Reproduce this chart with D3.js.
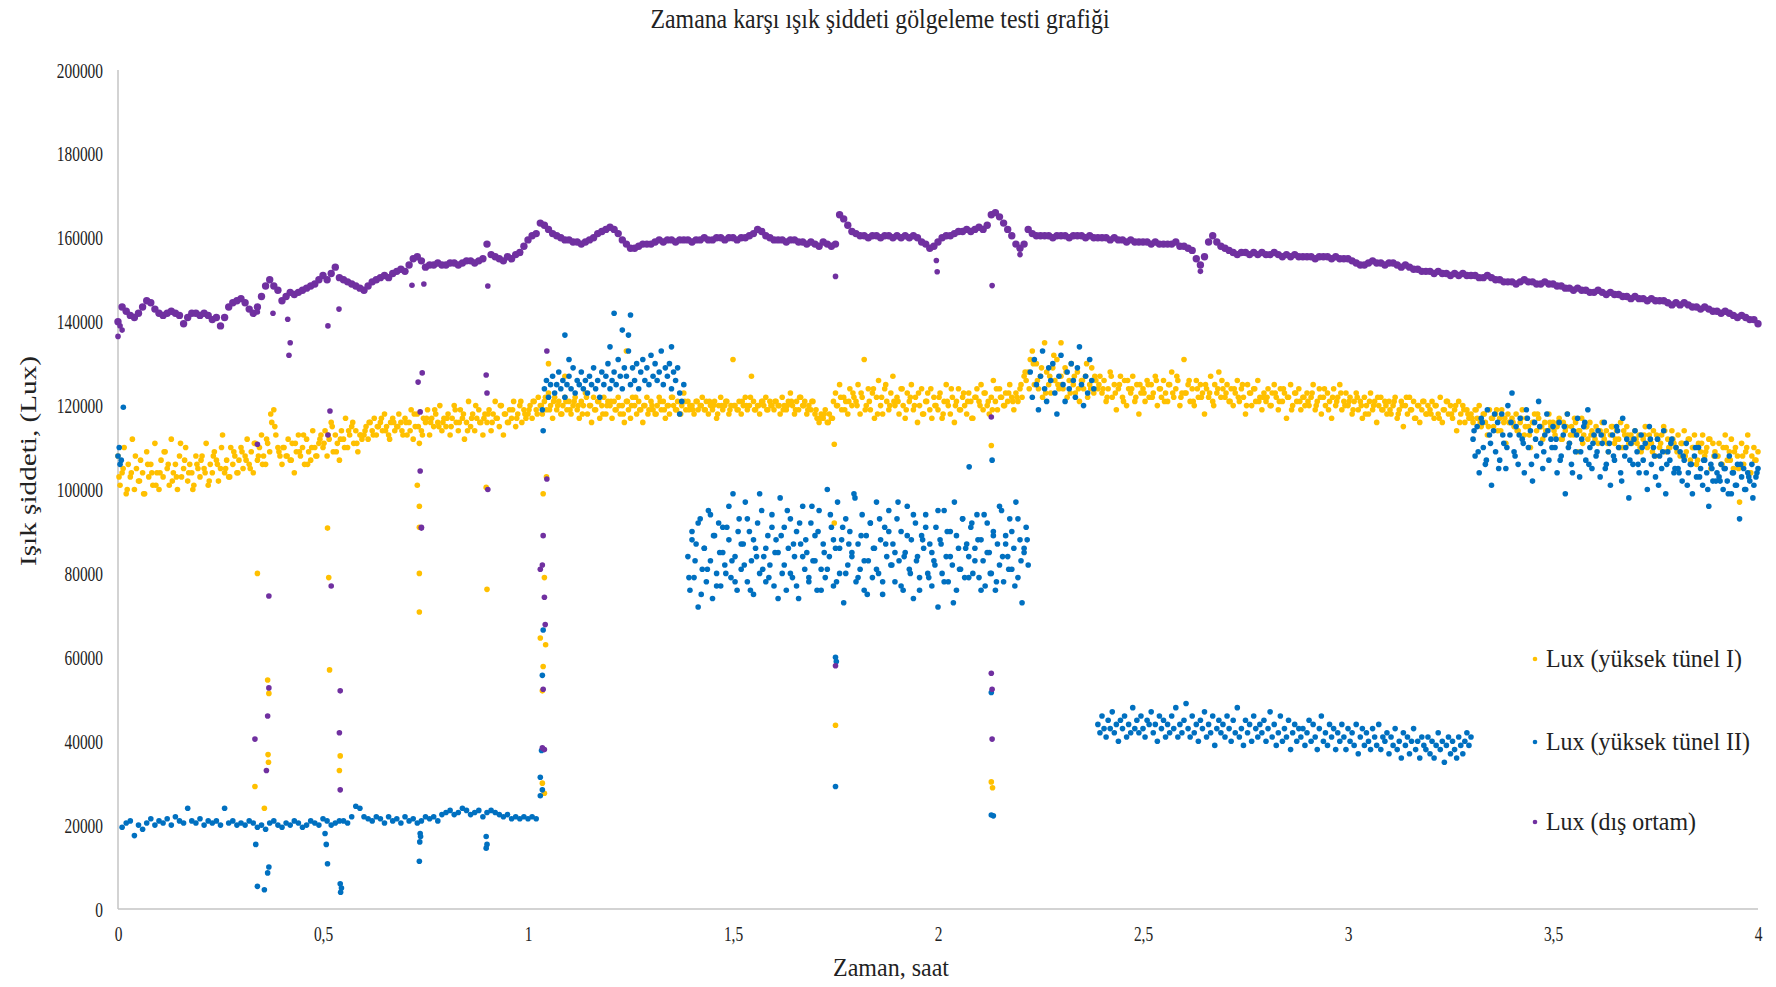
<!DOCTYPE html>
<html>
<head>
<meta charset="utf-8">
<script src="https://cdn.jsdelivr.net/npm/d3@7"></script>
<style>
  body { margin: 0; background: #fff; }
  text { font-family: "Liberation Serif", "DejaVu Serif", serif; fill: #222; }
</style>
</head>
<body>
<div id="chart"></div>
<script>
// başlıklar
const titleText = "Zamana karşı ışık şiddeti gölgeleme testi grafiği";
const xTitle = "Zaman, saat";
const yTitle = "Işık şiddeti, (Lux)";
const seriesNames = ["Lux (yüksek tünel I)", "Lux (yüksek tünel II)", "Lux (dış ortam)"];
const seriesColors = ["#FFC000", "#0070C0", "#7030A0"];
const xTicks = [0, 0.5, 1, 1.5, 2, 2.5, 3, 3.5, 4];
const yTicks = [0, 20000, 40000, 60000, 80000, 100000, 120000, 140000, 160000, 180000, 200000];

// değerler kLux, resimden okundu
// dış ortam: t = 0 .. 4, adım 0.01 saat
const outsideStep = 0.01;
const outsideK = [
  140,143.5,142.5,141.5,141,142,143.5,145,144.5,143,
  142,141.5,142,142.5,142,141.5,139.5,141,142,142,
  141.5,142,141.5,140.5,141,139,141,143.5,144.5,145,
  145.5,144.5,143,142,143.5,146,148.5,150,148.5,147.5,
  145,146,147,146.5,147,147.5,148,148.5,149,150,
  151,150,151.5,153,150.5,150,149.5,149,148.5,148,
  147.5,148.5,149.5,150,150.5,151,150.5,151.5,152,152.5,
  152,153.5,155,155.5,154.5,153,153.5,153.5,154,153.5,
  153.5,154,154,153.5,154,154.5,154.5,154,154.5,155,
  158.5,156,155.5,155,154.5,155.5,155,156,156.5,158,
  159.5,160.5,161,163.5,163,162,161,160.5,160,159.5,
  159.5,159,159,158.5,159,159.5,160,161,161.5,162,
  162.5,162,161,159.5,158.5,157.5,157.5,158,158.5,158.5,
  158.5,159,159.5,159,159.5,159.5,159,159.5,159.5,159.5,
  159,159.5,159.5,160,159.5,159.5,160,160,159.5,160,
  160,159.5,160,160,160.5,161,162,161.5,160.5,160,
  159.5,159.5,159.5,159,159.5,159.5,159,159,158.5,159,
  158.5,158,159,158.5,158,158.5,165.5,164.5,163,161.5,
  161,160.5,160.5,160,160.5,160.5,160,160.5,160.5,160,
  160.5,160,160.5,160,160.5,160,159,158.5,157.5,158,
  159,160,160.5,160.5,161,161.5,161.5,162,161.5,162,
  162.5,162,163,165.5,166,165,163.5,162,160.5,158.5,
  157.5,158.5,162,161,160.5,160.5,160.5,160.5,160,160.5,
  160.5,160.5,160,160.5,160.5,160.5,160,160.5,160,160,
  160,160,159.5,160,159.5,159.5,159,159.5,159,159,
  159,159,158.5,159,158.5,158.5,158.5,158.5,159,158,
  158,157.5,157,155,153.5,155.5,159,160.5,159,158,
  157.5,157,156.5,156,156.5,156.5,156,156.5,156,156.5,
  156,156,156.5,156,155.5,156,155.5,156,155.5,155.5,
  155.5,155.5,155,155.5,155.5,155.5,155,155.5,155,155,
  155,154.5,154,153.5,153.5,154,154.5,154,154,153.5,
  154,154,153.5,153,153.5,153,152.5,152.5,152,152,
  152,151.5,152,151.5,151.5,151,151.5,151,151.5,151,
  151,151,150.5,150.5,151,150.5,150,150,149.5,149.5,
  149.5,149,149.5,150,149.5,149.5,149,149,149.5,149,
  149,148.5,148.5,148,148,147.5,148,147.5,147.5,147,
  147,147.5,147,146.5,147,146.5,146.5,146,146,145.5,
  146,145.5,145.5,145,145.5,145,145,145,144.5,144,
  144.5,144,144.5,144,143.5,143.5,143,143.5,143,142.5,
  142.5,142,142.5,142,141.5,141,141.5,141,140.5,140.5,
  139.5
];
// dış ortam: sapan noktalar [saat, kLux]
const outsideExtra = [
  [0,136.5],[0.01,138],[0.005,139],[0.34,142.3],[0.378,142],[0.414,140.6],[0.42,135],[0.417,132],
  [0.512,139],[0.539,143],[0.717,148.7],[0.746,149],[0.902,148.5],[0.742,127.8],[0.732,125.6],
  [0.898,127.3],[0.9,123],[0.517,118.7],[0.512,113],[0.737,118.5],[0.34,110.8],[1.046,133],
  [1.046,102.5],[0.737,104.4],[0.902,100],[0.74,90.8],[0.74,91],[1.037,89],[1.03,81],[1.035,82],
  [0.52,77],[0.368,74.6],[0.334,40.5],[0.368,52.7],[0.365,46],[0.362,33],[0.542,52],[0.54,42],
  [0.542,28.4],[1.04,74.3],[1.042,67.8],[1.037,52.4],[1.035,38.4],[1.04,38],[1.75,58],[1.75,150.8],
  [2.13,56.2],[2.132,52.4],[2.132,40.5],[2.132,148.6],[2.13,117.3],[1.996,154.6],[1.998,151.9],
  [2.2,156],[2.64,152]
];

// yüksek tünel I: t = 0 .. 4, adım 0.005 saat
const tunnel1Step = 0.005;
const tunnel1K = [
  108,101,104,110,99,106,103,112,100,105,102,107,104,99,109,103,106,101,111,104,
  100,107,103,109,105,101,112,104,106,100,108,103,105,110,102,106,104,101,108,105,
  103,108,105,111,101,106,104,109,107,102,105,113,104,107,103,110,106,108,104,107,
  110,105,108,112,106,109,104,111,107,110,113,108,106,111,109,116,119,113,110,108,
  106,110,108,112,107,111,104,109,113,108,110,106,112,109,107,114,110,108,111,113,
  110,114,108,112,116,109,113,111,107,114,112,117,110,113,115,111,114,109,113,112,
  113,115,112,116,114,117,113,115,116,114,118,115,113,116,117,114,115,118,116,113,
  117,113,116,119,112,115,118,111,114,117,116,119,113,117,115,118,116,120,114,117,
  115,118,113,117,120,116,114,119,117,112,116,121,115,118,114,117,119,116,113,118,
  116,119,114,118,121,117,115,120,113,118,116,119,117,121,115,118,120,116,119,117,
  118,120,117,121,119,122,120,118,121,119,123,120,117,122,119,121,118,120,122,119,
  121,118,120,122,119,117,121,120,123,118,120,116,122,119,121,117,120,122,118,121,
  120,117,121,119,122,118,120,116,121,119,117,122,120,118,121,119,116,120,122,119,
  121,119,118,120,122,119,121,117,120,118,122,120,119,121,118,120,123,119,121,120,
  120,118,121,119,120,122,119,121,118,120,119,121,117,120,122,119,120,121,118,120,
  131,120,119,121,118,120,122,119,120,127,121,119,120,118,121,120,122,119,121,120,
  119,121,120,118,122,120,119,121,123,120,118,121,119,122,120,121,118,120,119,121,
  118,117,116,118,117,119,116,118,117,121,123,120,125,119,122,121,118,124,120,122,
  121,125,118,122,131,120,124,119,123,117,122,126,120,118,124,121,119,123,127,120,
  122,118,124,120,117,123,121,125,119,122,116,120,124,118,121,123,119,117,122,120,
  119,123,117,121,125,120,118,122,116,121,124,119,122,120,118,123,121,117,122,124,
  121,125,119,123,120,118,122,126,121,119,124,122,120,123,121,125,122,119,123,121,
  124,122,127,126,128,131,133,125,130,124,127,122,135,128,125,123,129,126,131,124,
  127,124,129,122,126,130,125,123,128,121,126,124,127,122,125,129,123,126,124,127,
  123,126,121,124,128,122,125,119,124,127,122,126,120,124,123,127,121,125,118,123,
  124,121,126,122,125,123,127,120,124,122,126,123,121,125,128,122,124,126,120,123,
  131,123,125,121,124,120,126,122,125,123,118,124,122,127,121,125,123,128,122,124,
  122,125,121,124,120,123,126,121,124,122,118,125,123,120,124,121,126,122,119,123,
  121,124,120,123,125,122,119,124,121,123,117,122,125,120,123,121,124,119,122,120,
  123,120,122,125,119,121,124,118,122,120,123,121,117,124,120,122,125,119,121,123,
  120,122,118,121,123,119,121,117,122,120,118,123,119,121,116,120,122,119,121,118,
  121,118,120,122,117,119,121,115,120,118,122,119,121,117,120,116,119,121,118,120,
  119,121,117,120,118,122,116,119,121,118,120,117,119,114,121,118,120,116,119,117,
  118,116,119,117,120,115,118,116,113,119,117,115,118,114,117,119,116,111,118,116,
  117,115,118,114,116,119,113,117,115,110,116,118,114,117,115,112,116,114,118,115,
  116,113,115,117,112,116,114,118,111,115,113,116,109,114,117,113,115,112,116,114,
  113,115,111,114,116,112,114,109,113,115,111,114,112,116,110,113,115,111,113,112,
  114,111,113,109,112,115,110,113,111,114,108,112,110,113,115,109,112,110,114,111,
  110,113,108,111,114,109,112,107,110,113,106,111,109,113,108,110,112,105,111,109,
  108,111,106,110,113,107,109,112,105,110,108,97,111,106,109,113,104,108,110,107,
  109
];
// yüksek tünel I: ara okumalar, t = 0.0025 + i*0.01
const tunnel1BStart = 0.0025, tunnel1BStep = 0.01;
const tunnel1BK = [
  103,105,100,104,108,102,99,106,104,101,
  104,109,106,102,103,111,107,104,100,106,
  107,104,102,108,106,110,105,103,109,104,
  109,107,105,111,108,106,112,118,115,109,
  110,108,107,111,109,113,106,110,108,112,
  111,113,115,109,112,110,114,116,111,113,
  114,116,113,115,117,114,112,116,115,114,
  116,114,118,115,113,117,116,119,115,116,
  117,115,119,116,118,114,117,120,116,117,
  118,116,117,120,118,116,119,117,121,118,
  119,121,118,120,122,119,121,120,118,121,
  119,121,120,118,122,120,119,121,118,120,
  121,119,120,118,121,120,122,119,120,118,
  120,118,121,119,120,122,119,118,121,119,
  119,121,120,119,121,120,118,120,121,119,
  120,119,121,120,122,119,120,121,119,120,
  121,120,119,120,121,119,122,120,119,121,
  119,117,118,116,117,120,122,119,121,123,
  120,123,119,121,124,118,122,125,120,121,
  121,124,119,122,120,123,118,121,124,120,
  122,118,121,124,120,119,123,121,117,122,
  120,123,121,119,124,122,120,123,121,122,
  125,128,124,130,126,129,123,127,132,125,
  125,128,123,127,124,126,130,124,127,125,
  124,122,127,123,125,121,126,124,122,125,
  123,125,122,126,124,121,125,123,127,122,
  123,126,121,124,122,125,123,120,124,126,
  123,121,124,122,125,120,123,124,121,122,
  122,120,123,121,124,122,119,123,121,122,
  121,123,120,122,124,119,122,121,123,120,
  121,119,122,120,118,121,120,122,119,120,
  119,121,118,120,122,119,117,120,121,118,
  118,120,117,119,121,118,120,116,119,118,
  117,119,116,118,115,117,119,114,117,116,
  116,114,117,115,113,116,118,115,114,116,
  114,116,112,115,113,117,114,111,115,113,
  112,114,113,111,115,112,110,114,113,111,
  112,110,113,111,109,113,111,114,110,112,
  109,111,108,112,110,107,111,109,112,108,
  108,106,110,107,109,105,108,110,104,107
];
const tunnel1Extra = [
  [0.34,80],[0.365,54.6],[0.368,51.4],[0.366,36.8],[0.367,35],[0.334,29.2],[0.357,24],
  [0.511,90.8],[0.514,79],[0.516,57],[0.542,36.5],[0.54,33],[0.735,96],[0.735,91],[0.735,80],
  [0.735,70.8],[0.898,100.5],[0.9,76.2],[1.037,99],[1.04,79],[1.03,64.6],[1.037,57.8],[1.035,52],
  [1.043,63],[1.035,30],[1.04,27.6],[1.045,103],[1.75,43.8],[1.747,110.8],[1.747,92],[2.13,30.3],
  [2.133,28.9],[2.13,110.5],[1.05,130],[1.09,127],[2.3,135],[0.73,101],[1.24,133]
];

// yüksek tünel II: bölümler [başlangıç saati, adım, değerler]
const tunnel2Low1 = [ // 0.01 .. 1.02, adım 0.01
  19.5,20.5,21,17.5,20,19,20.5,21.5,20,21,
  20.5,21.5,20,22,21,20.5,24,21,20.5,21.5,
  20,21,20.5,21,20,24,20.5,21,20,20.5,
  20,21,20.5,19.5,20,19,20.5,21,20,19.5,
  20.5,20,21,20.5,19.5,20,21,20.5,20,21.5,
  21,20,20.5,21,21,20.5,22,24.5,24,22,
  21.5,21,22,21.5,20.5,22,21,21.5,20.5,22,
  21,21.5,20.5,21,22,21.5,22,21,22.5,23,
  23.5,22.5,23,24,23.5,22.5,23,23.5,22,23,
  23.5,23,22.5,22,22.5,21.5,22,21.5,22,21.5,
  22,21.5
];
const tunnel2High1 = [ // 1.04 .. 1.38, adım 0.005
  124,126,122,125,127,123,125,128,124,126,122,125,127,124,129,123,126,125,128,124,
  126,123,127,125,129,124,126,122,128,125,127,130,124,126,128,125,131,127,124,129,
  127,133,125,129,126,130,124,128,131,126,129,125,132,127,130,126,128,133,125,129,
  127,130,124,128,126,129,123,121,125
];
const tunnel2Mid = [ // 1.39 .. 2.22, adım 0.005
  84,76,90,79,87,72,93,81,86,78,95,83,74,89,80,92,77,85,82,91,
  88,79,99,84,76,93,81,87,97,78,90,83,75,86,92,80,95,84,78,89,
  82,94,77,88,85,98,80,91,76,86,93,79,84,90,74,87,96,81,85,78,
  92,83,89,76,95,81,87,79,100,84,91,77,86,97,80,88,73,93,82,90,
  85,99,78,87,81,94,76,89,83,92,79,86,97,80,88,75,91,84,95,82,
  87,78,93,83,90,76,85,96,81,88,74,92,84,79,89,86,94,80,87,77,
  83,91,72,88,80,95,84,78,90,82,97,76,86,81,93,79,87,84,91,80,
  86,94,79,88,83,77,92,85,80,90,76,87,82,95,78,89,84,93,81,86,
  97,79,88,73,85,91,82
];
const tunnel2MidB = [ // 1.3925 .. 2.2175, adım 0.0075
  79,88,83,92,75,86,81,94,89,77,
  85,91,80,96,83,78,90,87,82,93,
  76,88,84,99,81,86,79,91,85,74,
  89,82,95,80,87,77,92,84,88,79,
  96,83,90,76,85,81,94,88,78,86,
  91,80,87,84,98,79,89,83,75,92,
  86,81,93,78,87,90,82,85,97,77,
  84,89,80,94,83,76,88,91,79,85,
  82,95,87,78,90,84,73,89,81,93,
  86,79,92,83,88,76,94,85,80,89,
  78,96,84,87,81,90,77,93,83,86,
  88
];
const tunnel2High2 = [ // 2.225 .. 2.38, adım 0.005
  128,122,131,125,119,127,133,124,121,129,126,130,123,118,127,132,
  125,121,128,124,130,126,122,129,134,125,120,127,123,131,126,124
];
const tunnel2Low2 = [ // 2.39 .. 3.30, adım 0.005
  44,42,46,43,41,45,43,47,42,44,40,45,43,46,41,44,42,48,43,45,
  42,46,43,41,45,44,47,42,44,40,46,43,45,41,44,42,46,43,48,41,
  44,42,45,49,43,41,46,42,44,40,45,43,47,41,44,42,46,39,43,45,
  42,44,41,46,43,40,45,42,48,41,43,39,45,42,44,40,46,43,41,44,
  42,45,40,43,47,41,44,39,42,46,40,43,41,45,38,42,44,40,43,41,
  43,39,42,45,40,44,41,38,43,46,40,42,39,44,41,43,38,42,40,44,
  41,38,43,40,42,39,44,37,41,43,39,42,40,38,43,41,39,44,38,41,
  40,42,37,41,39,43,38,40,36,42,39,41,37,40,43,38,40,36,41,39,
  38,41,37,40,36,39,42,38,40,35,39,41,37,40,38,36,41,39,37,40,
  42,39,41
];
const tunnel2High3 = [ // 3.305 .. 4.0, adım 0.005
  112,108,115,104,117,110,106,119,113,101,114,109,116,107,118,111,105,120,113,123,
  109,115,106,117,112,104,119,110,114,102,116,108,121,111,105,113,118,107,112,115,
  110,104,116,108,113,99,118,111,106,114,109,117,103,112,115,107,119,110,105,113,
  108,114,103,111,116,106,109,101,113,107,115,110,104,117,108,112,98,111,106,114,
  109,104,113,107,111,100,115,106,110,103,112,108,105,114,99,109,107,112,104,110,
  105,109,102,107,111,104,106,99,108,103,110,105,101,107,104,96,106,102,108,104,
  103,106,100,105,102,108,99,104,101,106,93,103,105,100,104,102,106,101,103,105
];
const tunnel2High3B = [ // 3.3075 .. 3.9975, adım 0.01
  114,109,116,107,111,118,105,113,110,116,
  108,113,111,117,106,112,115,109,114,110,
  112,107,115,110,104,113,109,116,106,111,
  109,113,105,111,108,114,102,110,107,112,
  106,110,104,112,108,101,109,106,111,105,
  104,108,101,106,110,103,107,100,105,102,
  102,105,99,104,101,106,100,103,98,104
];
const tunnel2Segments = [
  [0.01, 0.01, tunnel2Low1],
  [1.04, 0.005, tunnel2High1],
  [1.39, 0.005, tunnel2Mid],
  [1.3925, 0.0075, tunnel2MidB],
  [2.225, 0.005, tunnel2High2],
  [2.39, 0.005, tunnel2Low2],
  [3.305, 0.005, tunnel2High3],
  [3.3075, 0.01, tunnel2High3B]
];
const tunnel2Extra = [
  [0,108],[0.003,110],[0.005,106],[0.008,107],[0.013,119.6],
  [0.34,5.4],[0.357,4.6],[0.365,8.6],[0.368,10],[0.336,15.4],[0.511,10.8],[0.542,6],[0.543,4],
  [0.545,5],[0.508,15.4],[0.505,18],[0.735,11.4],[0.737,18],[0.736,16],[0.738,17.3],[0.898,17.3],
  [0.9,15.4],[0.898,14.5],[1.037,66.5],[1.035,55.7],[1.033,37.8],[1.03,31.4],[1.035,28.4],
  [1.035,119],[1.037,114],[1.03,27],[1.75,60],[1.752,59],[1.75,29.2],[2.13,22.4],[2.135,22.2],
  [2.13,51.6],[2.132,107],[2.076,105.4],
  [1.09,136.8],[1.21,142],[1.25,141.6],[1.245,136.8],[1.23,138],[1.2,134],[1.35,134],[1.37,118],[1.1,131]
];

// ---- çizim ----
const width = 1776, height = 987;
const margin = { left: 118, right: 18, top: 70, bottom: 78 };

const svg = d3.select("#chart").append("svg")
    .attr("width", width)
    .attr("height", height);

const x = d3.scaleLinear().domain([0, 4]).range([margin.left, width - margin.right]);
const y = d3.scaleLinear().domain([0, 200000]).range([height - margin.bottom, margin.top]);

// yazıları yatayda biraz sıkıştır
function squeeze(sel, ratio) {
    sel.each(function () {
        const w = this.getComputedTextLength();
        d3.select(this).attr("textLength", w * ratio).attr("lengthAdjust", "spacingAndGlyphs");
    });
}

// eksenler
const yAxis = svg.append("g")
    .attr("transform", `translate(${margin.left},0)`)
    .call(d3.axisLeft(y).tickValues(yTicks).tickSize(0).tickPadding(15).tickFormat(d3.format("d")));
const xAxis = svg.append("g")
    .attr("transform", `translate(0,${height - margin.bottom})`)
    .call(d3.axisBottom(x).tickValues(xTicks).tickSize(0).tickPadding(16)
        .tickFormat(d => String(d).replace(".", ",")));

[yAxis, xAxis].forEach(g => {
    g.select(".domain").attr("stroke", "#c4c4c4").attr("stroke-width", 1.5);
    g.selectAll("text")
        .style("font-family", "'Liberation Serif', serif")
        .style("font-size", "22px")
        .attr("fill", "#333");
    squeeze(g.selectAll("text"), 0.7);
});
yAxis.select(".domain").attr("d", `M0,${y(200000)}V${y(0)}`);
xAxis.select(".domain").attr("d", `M${x(0)},0H${x(4)}`);

// noktaları hazırla
function fromArray(start, step, values, r) {
    return values.map((v, i) => ({ t: start + i * step, v: v * 1000, r: r }));
}
function fromPairs(pairs, r) {
    return pairs.map(p => ({ t: p[0], v: p[1] * 1000, r: r }));
}

const tunnel1Points = fromArray(0, tunnel1Step, tunnel1K, 2.8)
    .concat(fromArray(tunnel1BStart, tunnel1BStep, tunnel1BK, 2.8))
    .concat(fromPairs(tunnel1Extra, 2.8));
let tunnel2Points = [];
tunnel2Segments.forEach(s => {
    tunnel2Points = tunnel2Points.concat(fromArray(s[0], s[1], s[2], 2.8));
});
tunnel2Points = tunnel2Points.concat(fromPairs(tunnel2Extra, 2.8));
// dış ortam çizgisi sık ölçüm, kalın bant gibi görünüyor
const outsidePoints = fromArray(0, outsideStep, outsideK, 3.7).concat(fromPairs(outsideExtra, 2.8));

const allSeries = [tunnel1Points, tunnel2Points, outsidePoints];

allSeries.forEach((pts, si) => {
    svg.append("g")
        .attr("class", "series-" + si)
        .selectAll("circle")
        .data(pts)
        .enter()
        .append("circle")
        .attr("cx", d => x(d.t))
        .attr("cy", d => y(d.v))
        .attr("r", d => d.r)
        .attr("fill", seriesColors[si]);
});

// başlık
svg.append("text")
    .attr("x", 880)
    .attr("y", 28)
    .attr("text-anchor", "middle")
    .style("font-size", "27px")
    .attr("textLength", 459)
    .attr("lengthAdjust", "spacingAndGlyphs")
    .text(titleText);

// eksen başlıkları
svg.append("text")
    .attr("x", 891)
    .attr("y", 976)
    .attr("text-anchor", "middle")
    .style("font-size", "25px")
    .attr("textLength", 116)
    .attr("lengthAdjust", "spacingAndGlyphs")
    .text(xTitle);

svg.append("text")
    .attr("transform", "translate(36,461) rotate(-90)")
    .attr("text-anchor", "middle")
    .style("font-size", "24px")
    .attr("textLength", 210)
    .attr("lengthAdjust", "spacingAndGlyphs")
    .text(yTitle);

// lejant
const legendY = [659, 742, 822];
const legendW = [196, 204, 150];
const legend = svg.append("g");
seriesNames.forEach((name, i) => {
    legend.append("circle")
        .attr("cx", 1535)
        .attr("cy", legendY[i])
        .attr("r", 2.3)
        .attr("fill", seriesColors[i]);
    legend.append("text")
        .attr("x", 1546)
        .attr("y", legendY[i] + 8)
        .style("font-size", "25px")
        .attr("textLength", legendW[i])
        .attr("lengthAdjust", "spacingAndGlyphs")
        .text(name);
});
</script>
</body>
</html>
